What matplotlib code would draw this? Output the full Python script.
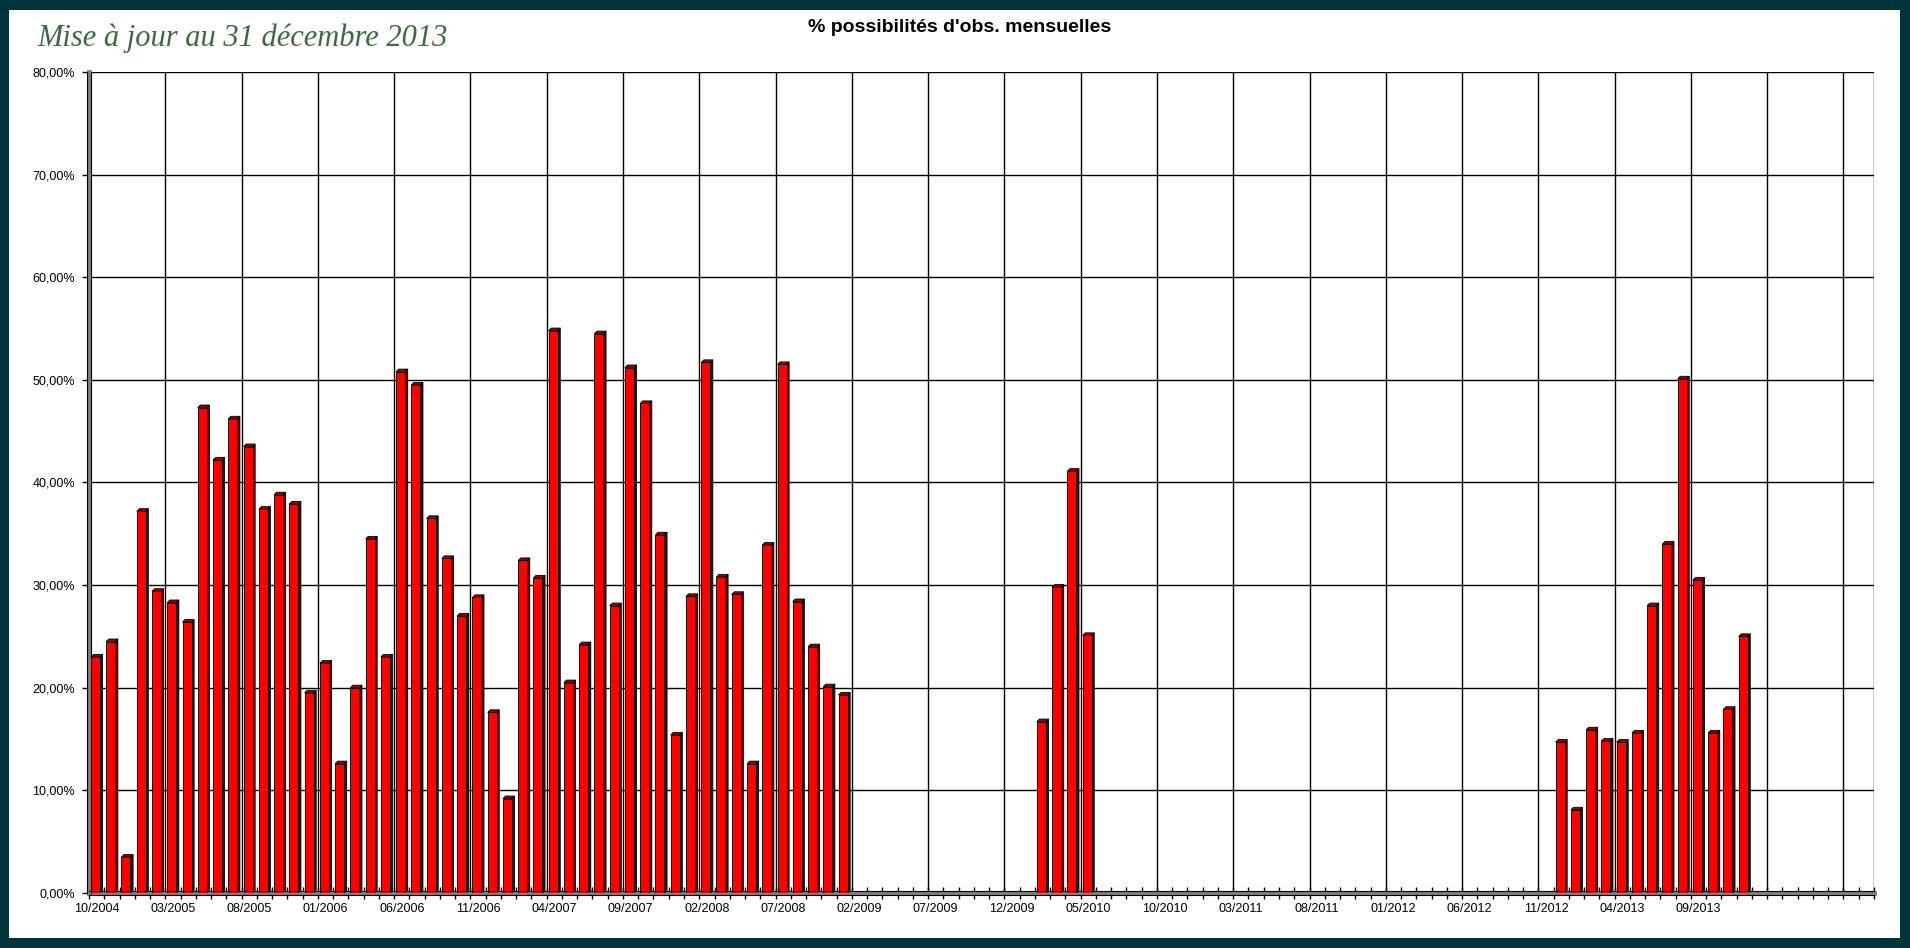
import numpy as np
import matplotlib
matplotlib.use('Agg')
import matplotlib.pyplot as plt
from matplotlib.patches import Rectangle, Polygon
import matplotlib.transforms as mtransforms

# Monthly % of observable nights, 10/2004 onwards (None = no data)
values = [
    23.0, 24.5, 3.5, 37.2, 29.4, 28.3, 26.4, 47.3, 42.2, 46.2,
    43.5, 37.4, 38.8, 37.9, 19.5, 22.4, 12.6, 20.0, 34.5, 23.0,
    50.8, 49.5, 36.5, 32.6, 27.0, 28.8, 17.6, 9.2, 32.4, 30.7,
    54.8, 20.5, 24.2, 54.5, 28.0, 51.2, 47.7, 34.9, 15.4, 28.9,
    51.7, 30.8, 29.1, 12.6, 33.9, 51.5, 28.4, 24.0, 20.1, 19.3,
    None, None, None, None, None, None, None, None, None, None,
    None, None, 16.7, 29.8, 41.1, 25.1, None, None, None, None,
    None, None, None, None, None, None, None, None, None, None,
    None, None, None, None, None, None, None, None, None, None,
    None, None, None, None, None, None, 14.7, 8.1, 15.9, 14.8,
    14.7, 15.6, 28.0, 34.0, 50.1, 30.5, 15.6, 17.9, 25.0, None,
    None, None, None, None, None, None, None,
]
tick_labels = ['10/2004', '03/2005', '08/2005', '01/2006', '06/2006', '11/2006',
               '04/2007', '09/2007', '02/2008', '07/2008', '02/2009', '07/2009',
               '12/2009', '05/2010', '10/2010', '03/2011', '08/2011', '01/2012',
               '06/2012', '11/2012', '04/2013', '09/2013']
y_labels = ['0,00%', '10,00%', '20,00%', '30,00%', '40,00%', '50,00%',
            '60,00%', '70,00%', '80,00%']

n = len(values)
W, H = 1910, 948
fig = plt.figure(figsize=(W / 100, H / 100), dpi=100)
fig.patch.set_facecolor('#00333a')
fig.patches.append(Rectangle((9 / W, 10 / H), (1900 - 9) / W, (938 - 10) / H,
                             transform=fig.transFigure, facecolor='white',
                             edgecolor='none', zorder=-5))

left, right, top, bottom = 89, 1874, 72, 893
ax = fig.add_axes([left / W, (H - bottom) / H, (right - left) / W, (bottom - top) / H])
ax.set_facecolor('white')
ax.set_xlim(0, n)
ax.set_ylim(0, 80)

# grid
for y in range(10, 81, 10):
    ax.axhline(y, color='black', lw=1.0, zorder=1)
for x in range(5, n + 1, 5):
    ax.axvline(x, color='black', lw=1.0, zorder=1)
ax.axvline(n, color='black', lw=1.0, zorder=1)

# 3D-ish bars
f0, f1, s1 = 0.13, 0.72, 0.89
dy = 0.25
for i, v in enumerate(values):
    if v is None:
        continue
    ax.add_patch(Polygon([(i + f1, 0), (i + s1, dy), (i + s1, v + dy), (i + f1, v)],
                         closed=True, facecolor='#5a0000', edgecolor='black', lw=0.6, zorder=3))
    ax.add_patch(Polygon([(i + f0, v), (i + f1, v), (i + s1, v + dy), (i + f0 + (s1 - f1), v + dy)],
                         closed=True, facecolor='#a00000', edgecolor='black', lw=0.6, zorder=3))
    ax.add_patch(Rectangle((i + f0, 0), f1 - f0, v, facecolor='#ff0000',
                           edgecolor='black', lw=0.6, zorder=4))

# spines: gray wall on the left, double floor line
for s in ['top', 'right']:
    ax.spines[s].set_visible(False)
ax.spines['left'].set_color('#808080')
ax.spines['left'].set_linewidth(3.5)
ax.spines['bottom'].set_color('#808080')
ax.spines['bottom'].set_linewidth(3.5)
for off in (-1.8, 1.8):
    tr = ax.transData + mtransforms.ScaledTranslation(off / 100, 0, fig.dpi_scale_trans)
    ax.plot([0, 0], [0, 80], color='black', lw=0.8, transform=tr, clip_on=False, zorder=6)
    tr = ax.transData + mtransforms.ScaledTranslation(0, off / 100, fig.dpi_scale_trans)
    ax.plot([0, n], [0, 0], color='black', lw=0.8, transform=tr, clip_on=False, zorder=6)

ax.set_yticks(range(0, 81, 10))
ax.set_yticklabels(y_labels, fontsize=9, family='Liberation Sans')
ax.tick_params(axis='y', length=5, width=1, color='black', pad=5)

ax.set_xticks([i * 5 + 0.5 for i in range(len(tick_labels))])
ax.set_xticklabels(tick_labels, fontsize=9, family='Liberation Sans')
ax.tick_params(axis='x', which='major', length=0, pad=7.5)
ax.set_xticks(range(0, n + 1), minor=True)
ax.tick_params(axis='x', which='minor', length=8, width=1, direction='inout', color='black')

fig.text(960 / W, 1 - 28 / H, "% possibilités d'obs. mensuelles", ha='center', va='center',
         fontsize=14, fontweight='bold', family='Liberation Sans')
fig.text(37 / W, 1 - 38 / H, 'Mise à jour au 31 décembre 2013', ha='left', va='center',
         fontsize=22, style='italic', color='#3b6b3f', family='Liberation Serif')

fig.savefig('out.png', dpi=100, facecolor=fig.get_facecolor())
